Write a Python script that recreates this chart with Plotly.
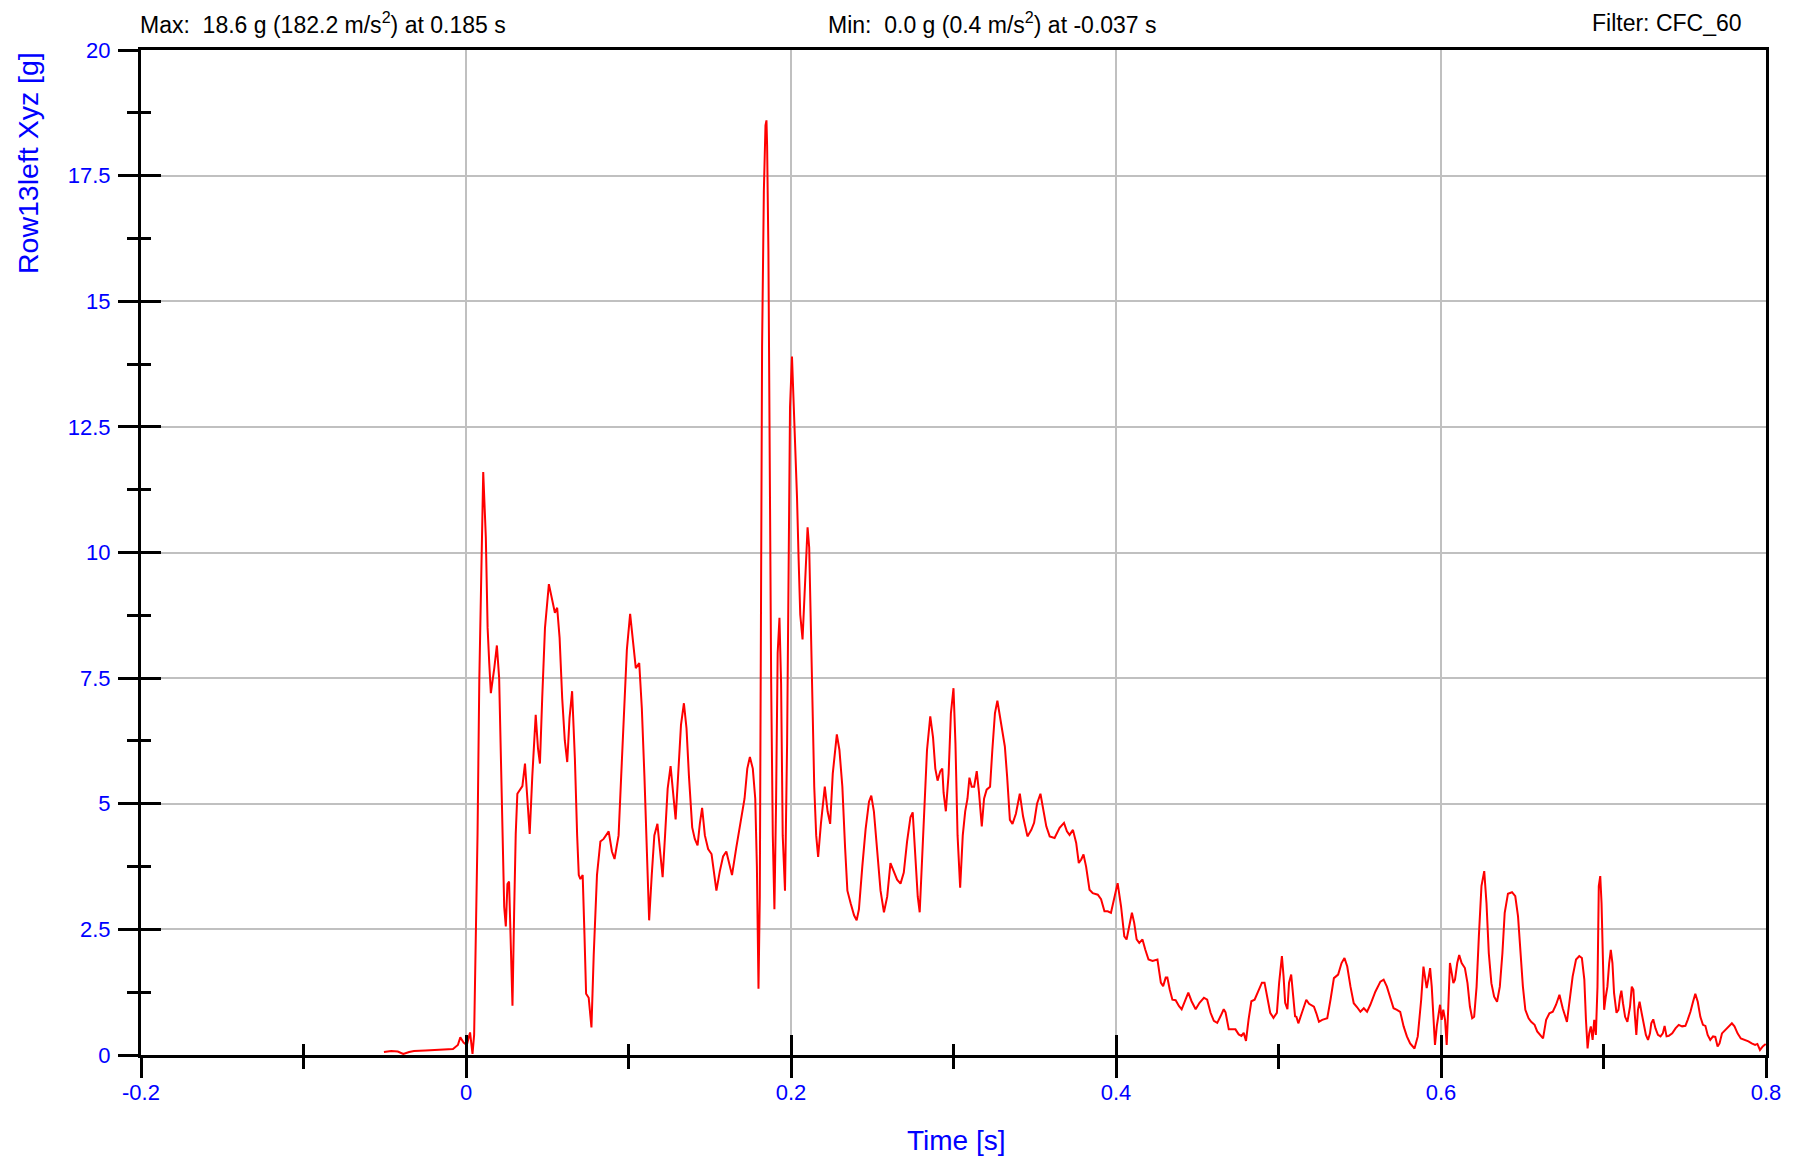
import plotly.graph_objects as go

# ---------------- data ----------------
time_s = [
    -0.0505, -0.046, -0.042, -0.0386, -0.035, -0.032, -0.025, -0.018, -0.012, -0.008,
    -0.005, -0.0035, -0.0015, 0.0005, 0.0025, 0.004, 0.005,
    0.0071, 0.0082, 0.0092, 0.0106, 0.0122, 0.0133, 0.0143, 0.0153, 0.0174, 0.019,
    0.0204, 0.0214, 0.0225, 0.0235, 0.0245, 0.0255, 0.0265, 0.0276, 0.0286, 0.0296,
    0.0306, 0.0316, 0.0337, 0.0347, 0.0363, 0.0378, 0.0392, 0.0408, 0.0429, 0.0443,
    0.0455, 0.0469, 0.0486, 0.051, 0.0531, 0.0547, 0.0561, 0.0576, 0.0592, 0.0608,
    0.0623, 0.0637, 0.0653, 0.067, 0.0684, 0.0694, 0.0704, 0.0718, 0.0729, 0.0739,
    0.0755, 0.0772, 0.0786, 0.0806, 0.0827, 0.0847, 0.0878, 0.0898, 0.0914, 0.0939,
    0.0955, 0.0972, 0.099, 0.101, 0.1031, 0.1045, 0.1066, 0.1082, 0.1098, 0.1112,
    0.1127, 0.1143, 0.1159, 0.1178, 0.1194, 0.121, 0.1225, 0.1241, 0.1259, 0.1276,
    0.129, 0.1306, 0.1323, 0.1341, 0.1357, 0.1372, 0.1392, 0.1408, 0.1425, 0.1439,
    0.1453, 0.147, 0.149, 0.1511, 0.1527, 0.1541, 0.1562, 0.1582, 0.1602, 0.1623,
    0.1637, 0.1663, 0.1694, 0.1714, 0.1731, 0.1747, 0.1765, 0.178, 0.179, 0.18,
    0.1808, 0.1816, 0.1822, 0.1833, 0.1843, 0.1849, 0.1853, 0.1861, 0.1869, 0.1878,
    0.1888, 0.1898, 0.1908, 0.1918, 0.1929, 0.1939, 0.1949, 0.1963, 0.1976, 0.1986,
    0.1994, 0.2006, 0.2016, 0.2027, 0.2037, 0.2047, 0.2057, 0.2071, 0.2086, 0.2102,
    0.2112, 0.2122, 0.2133, 0.2143, 0.2155, 0.2167, 0.2184, 0.2208, 0.2225, 0.2241,
    0.2257, 0.2282, 0.2298, 0.2316, 0.2333, 0.2347, 0.2367, 0.2388, 0.2404, 0.2418,
    0.2439, 0.2459, 0.248, 0.2494, 0.251, 0.2531, 0.2551, 0.2572, 0.2592, 0.2612,
    0.2633, 0.2653, 0.2674, 0.2694, 0.2714, 0.2735, 0.2749, 0.2765, 0.278, 0.2792,
    0.2806, 0.2821, 0.2837, 0.2857, 0.2874, 0.2888, 0.2902, 0.2919, 0.2931, 0.2939,
    0.2953, 0.297, 0.2984, 0.3, 0.3012, 0.3025, 0.3041, 0.3057, 0.3072, 0.3086,
    0.3098, 0.3112, 0.3127, 0.3143, 0.3157, 0.3174, 0.3188, 0.3204, 0.3225, 0.3239,
    0.3255, 0.327, 0.3296, 0.3316, 0.333, 0.3347, 0.3363, 0.3384, 0.3408, 0.3428,
    0.3455, 0.3479, 0.3496, 0.3514, 0.3535, 0.3551, 0.3571, 0.3592, 0.3622, 0.3653,
    0.368, 0.3698, 0.3714, 0.3735, 0.3755, 0.3771, 0.3786, 0.38, 0.3816, 0.3837,
    0.3857, 0.3888, 0.3908, 0.3929, 0.3949, 0.3969, 0.399, 0.401, 0.4031, 0.4051,
    0.4065, 0.4082, 0.4098, 0.4112, 0.4127, 0.4143, 0.4163, 0.418, 0.42, 0.4225,
    0.4255, 0.4276, 0.429, 0.4306, 0.4316, 0.4331, 0.4347, 0.4367, 0.4388, 0.4404,
    0.4425, 0.4445, 0.4465, 0.449, 0.4514, 0.4541, 0.4561, 0.4582, 0.4602, 0.4623,
    0.4643, 0.4663, 0.4674, 0.4694, 0.4714, 0.4735, 0.4755, 0.4772, 0.4786, 0.48,
    0.4816, 0.4833, 0.4853, 0.4878, 0.4898, 0.4914, 0.4929, 0.4949, 0.4969, 0.499,
    0.5004, 0.5021, 0.5031, 0.5041, 0.5055, 0.5065, 0.5078, 0.5092, 0.5102, 0.511,
    0.5122, 0.5143, 0.5171, 0.5188, 0.5218, 0.5233, 0.5249, 0.5269, 0.53, 0.532,
    0.5341, 0.5367, 0.5388, 0.5406, 0.5423, 0.5443, 0.5463, 0.5484, 0.5504, 0.5525,
    0.5545, 0.5565, 0.5596, 0.5627, 0.5647, 0.5667, 0.5688, 0.5708, 0.5729, 0.5749,
    0.577, 0.579, 0.581, 0.5837, 0.5857, 0.5878, 0.5892, 0.5902, 0.5912, 0.5923,
    0.5933, 0.5943, 0.5953, 0.5963, 0.5974, 0.5984, 0.5994, 0.6004, 0.6014, 0.6025,
    0.6035, 0.6045, 0.6055, 0.6066, 0.6076, 0.6086, 0.61, 0.6112, 0.6127, 0.6147,
    0.6163, 0.6178, 0.6192, 0.6204, 0.6219, 0.6233, 0.6249, 0.6266, 0.628, 0.6294,
    0.631, 0.6327, 0.6345, 0.6362, 0.6378, 0.6392, 0.6412, 0.6437, 0.6457, 0.6474,
    0.649, 0.6504, 0.6519, 0.6539, 0.6555, 0.6576, 0.6592, 0.6612, 0.6628, 0.6647,
    0.6667, 0.6688, 0.6708, 0.6729, 0.6749, 0.6775, 0.6796, 0.681, 0.6831, 0.6851,
    0.6867, 0.6882, 0.6892, 0.6902, 0.6912, 0.6922, 0.6933, 0.6943, 0.6953, 0.6963,
    0.6971, 0.698, 0.6988, 0.6996, 0.7004, 0.7014, 0.7024, 0.7035, 0.7045, 0.7055,
    0.7065, 0.708, 0.7092, 0.7102, 0.711, 0.712, 0.7133, 0.7147, 0.7163, 0.7174,
    0.7184, 0.7192, 0.7202, 0.7212, 0.7222, 0.7235, 0.7249, 0.7261, 0.7274, 0.7286,
    0.7294, 0.7306, 0.732, 0.7335, 0.7351, 0.7365, 0.7376, 0.7388, 0.7402, 0.7423,
    0.7443, 0.7463, 0.7484, 0.7504, 0.7518, 0.7535, 0.7551, 0.7565, 0.758, 0.7596,
    0.7612, 0.7627, 0.7641, 0.7657, 0.7674, 0.7688, 0.7702, 0.7714, 0.7729, 0.7749,
    0.7769, 0.779, 0.7806, 0.7825, 0.7845, 0.7872, 0.7892, 0.7912, 0.7933, 0.7947,
    0.7963, 0.798, 0.7998,
]

accel_g = [
    0.06, 0.08, 0.07, 0.02, 0.06, 0.08, 0.09, 0.10, 0.10, 0.12,
    0.2, 0.35, 0.25, 0.2, 0.45, 0.02, 0.4,
    4.4, 7.5, 9.6, 11.6, 10.3, 8.5, 7.8, 7.2, 7.7, 8.15,
    7.5, 5.9, 4.4, 2.95, 2.56, 3.4, 3.45, 2.2, 0.98, 2.8,
    4.4, 5.2, 5.3, 5.35, 5.8, 5.15, 4.4, 5.55, 6.77, 6.1,
    5.8, 7.1, 8.5, 9.37, 9.0, 8.8, 8.9, 8.3, 7.1, 6.26,
    5.83, 6.7, 7.24, 5.9, 4.37, 3.58, 3.5, 3.58, 2.4, 1.22,
    1.14, 0.55, 2.0, 3.58, 4.25, 4.3, 4.45, 4.05, 3.9, 4.37,
    5.55, 6.7, 8.07, 8.78, 8.15, 7.7, 7.8, 6.9, 5.55, 3.98,
    2.68, 3.58, 4.37, 4.6, 4.05, 3.54, 4.37, 5.3, 5.75, 5.16,
    4.69, 5.6, 6.57, 7.0, 6.5, 5.55, 4.53, 4.3, 4.17, 4.6,
    4.92, 4.37, 4.1, 4.0, 3.54, 3.27, 3.66, 3.95, 4.05, 3.74,
    3.58, 4.12, 4.73, 5.1, 5.7, 5.93, 5.7, 5.1, 3.76, 1.32,
    3.15, 9.24, 14.1, 17.2, 18.5, 18.6, 18.1, 16.0, 10.5, 7.4,
    4.37, 2.9, 5.0, 8.0, 8.7, 7.4, 4.37, 3.27, 6.2, 9.85,
    12.9, 13.9, 13.1, 12.05, 11.1, 9.85, 8.76, 8.27, 9.24, 10.5,
    10.1, 8.6, 6.8, 5.34, 4.37, 3.94, 4.6, 5.34, 4.85, 4.6,
    5.6, 6.38, 6.07, 5.34, 4.12, 3.27, 3.02, 2.78, 2.68, 2.9,
    3.76, 4.49, 5.04, 5.16, 4.85, 4.0, 3.27, 2.84, 3.15, 3.82,
    3.63, 3.49, 3.41, 3.63, 4.24, 4.73, 4.83, 4.0, 3.15, 2.84,
    3.76, 4.98, 6.07, 6.74, 6.32, 5.7, 5.46, 5.65, 5.7, 5.22,
    4.85, 5.6, 6.8, 7.3, 6.2, 4.37, 3.33, 4.37, 4.85, 5.1,
    5.52, 5.34, 5.34, 5.65, 5.22, 4.55, 5.1, 5.28, 5.34, 6.07,
    6.8, 7.05, 6.5, 6.14, 5.54, 4.68, 4.6, 4.8, 5.2, 4.75,
    4.35, 4.48, 4.62, 5.0, 5.2, 4.88, 4.55, 4.35, 4.32, 4.52,
    4.62, 4.45, 4.38, 4.48, 4.22, 3.82, 3.89, 3.99, 3.75, 3.29,
    3.22, 3.19, 3.1, 2.86, 2.86, 2.83, 3.16, 3.42, 2.96, 2.36,
    2.3, 2.56, 2.83, 2.63, 2.3, 2.23, 2.3, 2.1, 1.9, 1.87,
    1.9, 1.44, 1.37, 1.54, 1.54, 1.3, 1.1, 1.09, 0.97, 0.91,
    1.1, 1.24, 1.07, 0.91, 1.04, 1.14, 1.1, 0.84, 0.68, 0.64,
    0.77, 0.91, 0.85, 0.51, 0.51, 0.51, 0.41, 0.38, 0.44, 0.28,
    0.71, 1.07, 1.1, 1.3, 1.44, 1.44, 1.17, 0.84, 0.74, 0.84,
    1.44, 1.97, 1.57, 1.04, 0.91, 1.44, 1.6, 1.1, 0.77, 0.76,
    0.63, 0.83, 1.1, 1.02, 0.96, 0.83, 0.66, 0.7, 0.73, 1.1,
    1.53, 1.6, 1.83, 1.93, 1.76, 1.36, 1.03, 0.95, 0.86, 0.93,
    0.86, 1.0, 1.26, 1.46, 1.5, 1.36, 1.16, 0.93, 0.9, 0.86,
    0.57, 0.37, 0.23, 0.13, 0.37, 1.1, 1.76, 1.56, 1.33, 1.53,
    1.73, 1.36, 0.83, 0.2, 0.57, 0.76, 1.0, 0.7, 0.9, 0.7,
    0.2, 0.96, 1.83, 1.63, 1.43, 1.5, 1.83, 1.99, 1.83, 1.73,
    1.43, 0.96, 0.73, 0.76, 1.36, 2.36, 3.36, 3.66, 3.02, 2.03,
    1.43, 1.16, 1.06, 1.36, 2.03, 2.83, 3.21, 3.24, 3.16, 2.76,
    2.03, 1.36, 0.9, 0.73, 0.66, 0.6, 0.47, 0.4, 0.33, 0.7,
    0.83, 0.86, 1.0, 1.2, 0.93, 0.66, 1.16, 1.56, 1.9, 1.97,
    1.93, 1.5, 0.7, 0.13, 0.43, 0.57, 0.3, 0.7, 0.4, 1.36,
    3.36, 3.56, 3.02, 2.03, 0.9, 1.16, 1.36, 1.83, 2.09, 1.83,
    1.23, 0.84, 0.9, 1.16, 1.28, 1.03, 0.76, 0.66, 0.96, 1.36,
    1.3, 0.83, 0.4, 0.9, 1.06, 0.83, 0.57, 0.4, 0.3, 0.43,
    0.63, 0.71, 0.53, 0.4, 0.37, 0.43, 0.58, 0.37, 0.38, 0.43,
    0.53, 0.6, 0.57, 0.58, 0.7, 0.86, 1.06, 1.22, 1.06, 0.76,
    0.6, 0.58, 0.4, 0.3, 0.37, 0.36, 0.17, 0.23, 0.43, 0.5,
    0.57, 0.63, 0.57, 0.43, 0.33, 0.3, 0.27, 0.23, 0.2, 0.22,
    0.1, 0.17, 0.22,
]

x_tickvals = [-0.2, 0, 0.2, 0.4, 0.6, 0.8]
x_ticktext = ["-0.2", "0", "0.2", "0.4", "0.6", "0.8"]
y_tickvals = [0, 2.5, 5, 7.5, 10, 12.5, 15, 17.5, 20]
y_ticktext = ["0", "2.5", "5", "7.5", "10", "12.5", "15", "17.5", "20"]

header_max = "Max:  18.6 g (182.2 m/s<sup>2</sup>) at 0.185 s"
header_min = "Min:  0.0 g (0.4 m/s<sup>2</sup>) at -0.037 s"
header_filter = "Filter: CFC_60"
x_title = "Time [s]"
y_title = "Row13left Xyz [g]"

# ---------------- styling ----------------
FONT = "Liberation Sans, Arial, Helvetica, sans-serif"
BLUE = "#0000FF"
GRID = "#C0C0C0"

# the page body has an 8 px default margin; the figure is sized so that
# the plot lands where the reference has it without creating scrollbars
FIG_W, FIG_H = 1785, 1151

fig = go.Figure()
fig.add_trace(go.Scatter(
    x=time_s, y=accel_g, mode="lines",
    line=dict(color="#FF0000", width=2),
    showlegend=False, hoverinfo="x+y",
))
# empty trace so that the overlay axes (inner halves of the ticks) exist
fig.add_trace(go.Scatter(x=[], y=[], xaxis="x2", yaxis="y2",
                         showlegend=False, hoverinfo="skip"))

common_x = dict(range=[-0.2, 0.8], tickvals=x_tickvals, zeroline=False,
                tickwidth=3, tickcolor="black")
common_y = dict(range=[0, 20], tickvals=y_tickvals, zeroline=False,
                tickwidth=3, tickcolor="black")

fig.update_layout(
    width=FIG_W, height=FIG_H,
    margin=dict(l=133, r=21, t=42, b=104, pad=0),
    paper_bgcolor="white", plot_bgcolor="white",
    font=dict(family=FONT, size=22, color="black"),
    xaxis=dict(
        **common_x,
        ticktext=x_ticktext,
        ticks="outside", ticklen=20,
        showgrid=True, gridcolor=GRID, gridwidth=1.5,
        showline=True, linecolor="black", linewidth=3, mirror=True,
        tickfont=dict(family=FONT, size=22, color=BLUE),
        minor=dict(ticks="outside", ticklen=11, dtick=0.1, tick0=0.1,
                   tickwidth=3, tickcolor="black", showgrid=False),
        ticklabelstandoff=-4,
    ),
    yaxis=dict(
        **common_y,
        ticktext=y_ticktext,
        ticks="outside", ticklen=20,
        showgrid=True, gridcolor=GRID, gridwidth=1.5,
        showline=True, linecolor="black", linewidth=3, mirror=True,
        tickfont=dict(family=FONT, size=22, color=BLUE),
        minor=dict(ticks="outside", ticklen=11, dtick=1.25, tick0=0,
                   tickwidth=3, tickcolor="black", showgrid=False),
        ticklabelstandoff=3,
    ),
    xaxis2=dict(
        **common_x,
        overlaying="x", anchor="y", side="bottom", matches="x",
        ticks="inside", ticklen=20, showticklabels=False,
        showgrid=False, showline=False,
        minor=dict(ticks="inside", ticklen=11, dtick=0.1, tick0=0.1,
                   tickwidth=3, tickcolor="black", showgrid=False),
    ),
    yaxis2=dict(
        **common_y,
        overlaying="y", anchor="x", side="left", matches="y",
        ticks="inside", ticklen=20, showticklabels=False,
        showgrid=False, showline=False,
        minor=dict(ticks="inside", ticklen=10, dtick=1.25, tick0=0,
                   tickwidth=3, tickcolor="black", showgrid=False),
    ),
)

ann_font = dict(family=FONT, size=23, color="black")
fig.add_annotation(text=header_max, xref="paper", yref="paper", x=0, y=1,
                   xanchor="left", yanchor="middle", yshift=27, xshift=-3,
                   showarrow=False, font=ann_font)
fig.add_annotation(text=header_min, xref="paper", yref="paper", x=0.4231, y=1,
                   xanchor="left", yanchor="middle", yshift=27, xshift=-3,
                   showarrow=False, font=ann_font)
fig.add_annotation(text=header_filter, xref="paper", yref="paper", x=0.9864, y=1,
                   xanchor="right", yanchor="middle", yshift=27,
                   showarrow=False, font=ann_font)
fig.add_annotation(text=x_title, xref="paper", yref="paper", x=0.5, y=0,
                   xanchor="center", yanchor="middle", yshift=-85, xshift=3,
                   borderpad=0,
                   showarrow=False, font=dict(family=FONT, size=28, color=BLUE))
fig.add_annotation(text=y_title, xref="paper", yref="paper", x=0, y=1,
                   xanchor="center", yanchor="top", xshift=-113, textangle=-90,
                   showarrow=False, font=dict(family=FONT, size=28.5, color=BLUE))

fig.write_html("out.html")
